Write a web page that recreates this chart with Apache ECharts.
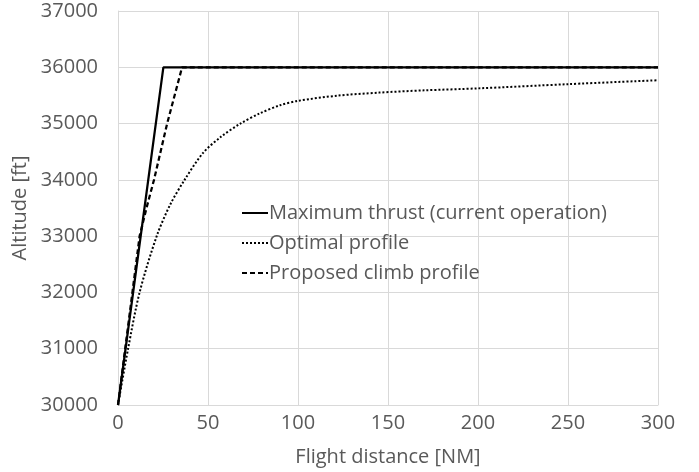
<!DOCTYPE html>
<html>
<head>
<meta charset="utf-8">
<script src="https://cdn.jsdelivr.net/npm/echarts@6/dist/echarts.min.js"></script>
<style>
  html, body { margin: 0; padding: 0; background: #fff; }
  #chart { width: 699px; height: 472px; }
</style>
</head>
<body>
<div id="chart"></div>
<script>
// Climb profiles: flight distance [NM] vs altitude [ft]
const seriesNames = [
  'Maximum thrust (current operation)',
  'Optimal profile',
  'Proposed climb profile'
];

const maxThrust = [[0, 30000], [25.2, 36000], [300, 36000]];

const optimalProfile = [
  [0, 30000], [5.6, 31000], [12, 32000], [21.5, 33000], [29, 33560], [37, 34000],
  [47.3, 34480], [57, 34760], [68, 35000], [78.7, 35180], [90, 35325], [100, 35404],
  [122, 35496], [145, 35550], [170, 35590], [200, 35625], [250, 35700], [300, 35770]
];

const proposedClimb = [[0, 30000], [12, 33000], [16, 33520], [20, 34000], [27.3, 35000], [35.6, 36000], [300, 36000]];

const xTicks = { min: 0, max: 300, interval: 50 };
const yTicks = { min: 30000, max: 37000, interval: 1000 };

const textColor = '#595959';
const gridColor = '#d9d9d9';
const font = '"Open Sans", "Noto Sans", sans-serif';

const chart = echarts.init(document.getElementById('chart'), null, { renderer: 'canvas' });

chart.setOption({
  animation: false,
  backgroundColor: '#ffffff',
  grid: { left: 118, right: 41, top: 11, bottom: 65, containLabel: false },
  legend: {
    orient: 'vertical',
    left: 236,
    top: 198,
    itemWidth: 26,
    itemHeight: 12,
    itemGap: 10,
    itemStyle: { opacity: 0 },
    textStyle: { color: textColor, fontSize: 20, fontFamily: font, padding: [0, 0, 0, -4] },
    data: seriesNames
  },
  xAxis: {
    type: 'value',
    min: xTicks.min, max: xTicks.max, interval: xTicks.interval,
    name: 'Flight distance [NM]',
    nameLocation: 'middle',
    nameGap: 42,
    nameTextStyle: { color: textColor, fontSize: 20, fontFamily: font },
    axisLine: { show: true, lineStyle: { color: gridColor, width: 1 } },
    axisTick: { show: false },
    axisLabel: { color: textColor, fontSize: 20, fontFamily: font, margin: 8 },
    splitLine: { show: true, lineStyle: { color: gridColor, width: 1 } }
  },
  yAxis: {
    type: 'value',
    min: yTicks.min, max: yTicks.max, interval: yTicks.interval,
    name: 'Altitude [ft]',
    nameLocation: 'middle',
    nameGap: 75,
    nameRotate: 90,
    nameTextStyle: { color: textColor, fontSize: 20, fontFamily: font },
    axisLine: { show: true, lineStyle: { color: gridColor, width: 1 } },
    axisTick: { show: false },
    axisLabel: { color: textColor, fontSize: 20, fontFamily: font, margin: 20, formatter: v => String(v) },
    splitLine: { show: true, lineStyle: { color: gridColor, width: 1 } }
  },
  series: [
    {
      name: seriesNames[0],
      type: 'line',
      data: maxThrust,
      symbol: 'none',
      lineStyle: { color: '#000000', width: 2.25, type: 'solid' },
      itemStyle: { color: '#000000' },
      z: 3
    },
    {
      name: seriesNames[1],
      type: 'line',
      data: optimalProfile,
      symbol: 'none',
      smooth: 0.3,
      lineStyle: { color: '#000000', width: 2, type: [2, 2] },
      itemStyle: { color: '#000000' },
      z: 2
    },
    {
      name: seriesNames[2],
      type: 'line',
      data: proposedClimb,
      symbol: 'none',
      lineStyle: { color: '#000000', width: 2.25, type: [5, 3] },
      itemStyle: { color: '#000000' },
      z: 2
    }
  ]
});
</script>
</body>
</html>
